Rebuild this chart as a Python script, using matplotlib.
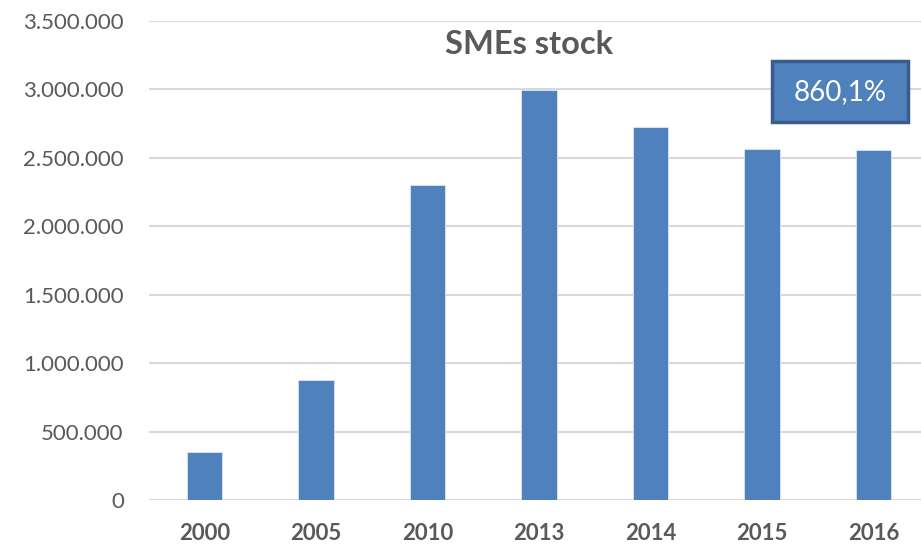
import matplotlib
matplotlib.use("Agg")
import matplotlib.pyplot as plt
from matplotlib.ticker import FuncFormatter
from matplotlib.patches import Rectangle

years = ["2000", "2005", "2010", "2013", "2014", "2015", "2016"]
sme_stock = [353000, 879000, 2305000, 2995000, 2724000, 2566000, 2561000]
growth_label = "860,1%"
title = "SMEs stock"

plt.rcParams['font.family'] = ['Lato', 'DejaVu Sans']

W, H = 921, 545
fig = plt.figure(figsize=(W/100, H/100), dpi=100)
ax = fig.add_axes([148.75/W, (H-500.3)/H, 780.5/W, (500.3-21)/H])

x = range(len(years))
ax.bar(x, sme_stock, width=0.314, color="#4F81BD", edgecolor="#DCE6F2", linewidth=0.6, zorder=3)
ax.set_xlim(-0.5, len(years) - 0.5)
ax.set_ylim(0, 3500000)
ax.set_yticks(range(0, 3500001, 500000))
ax.yaxis.set_major_formatter(FuncFormatter(lambda v, p: f"{int(v):,}".replace(",", ".")))
ax.set_xticks(list(x))
ax.set_xticklabels(years, fontweight="bold")
ax.grid(axis="y", color="#D9D9D9", linewidth=1.5, zorder=0)
for s in ax.spines.values():
    s.set_visible(False)
ax.tick_params(axis="y", length=0, pad=18, labelsize=16, labelcolor="#595959")
ax.tick_params(axis="x", length=0, pad=16, labelsize=16, labelcolor="#595959")
ax.set_axisbelow(True)

fig.text(529/W, 1 - 45/H, title, ha="center", va="center", fontsize=23.5,
         fontweight="bold", color="#595959")

x0, x1, y0, y1 = 772, 908, 61, 122
fig.patches.append(Rectangle((x0/W, 1 - y1/H), (x1-x0)/W, (y1-y0)/H,
                             transform=fig.transFigure, facecolor="#4F81BD",
                             edgecolor="#385D8A", linewidth=2.5, zorder=5))
fig.text((x0+x1)/2/W, 1 - 92/H, growth_label, ha="center", va="center", fontsize=20,
         color="white", zorder=6)

fig.savefig("out.png", dpi=100)
